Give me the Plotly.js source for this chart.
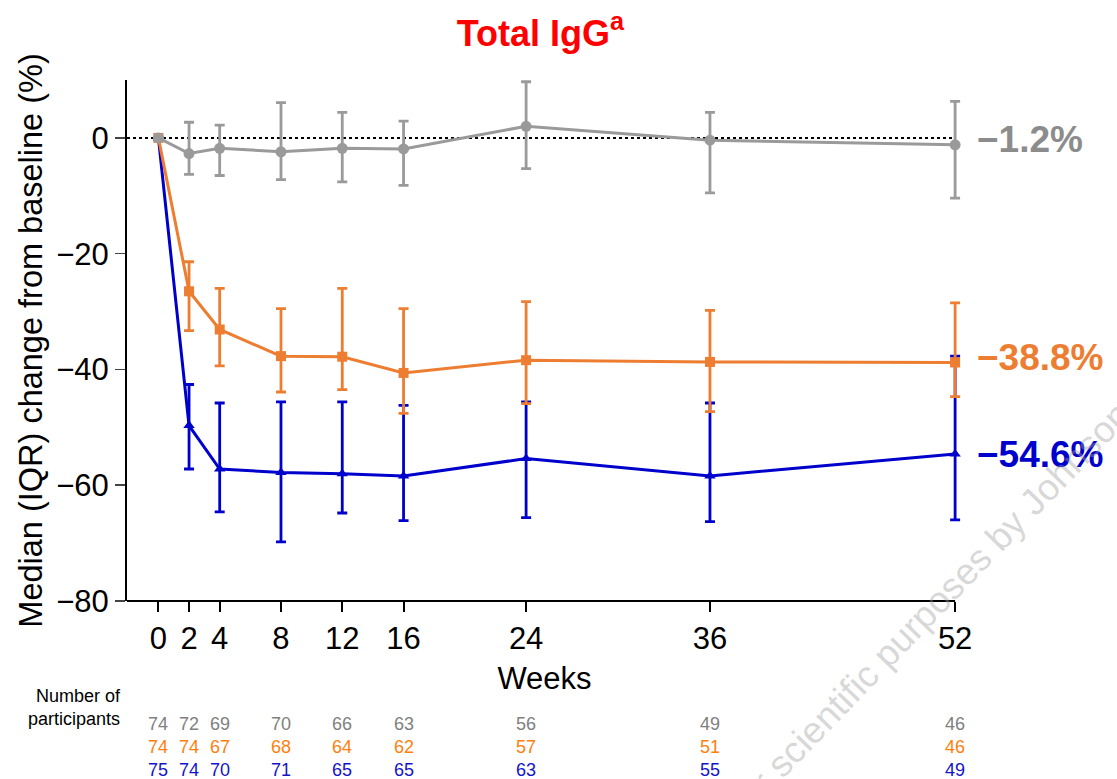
<!DOCTYPE html>
<html>
<head>
<meta charset="utf-8">
<script src="https://cdn.plot.ly/plotly-3.0.1.min.js"></script>
<style>
  html, body { margin: 0; padding: 0; background: #ffffff; }
  #chart { width: 1117px; height: 779px; }
</style>
</head>
<body>
<div id="chart"></div>
<script>
// ---------------- Data ----------------
const weeks = [0, 2, 4, 8, 12, 16, 24, 36, 52];
const weekTickLabels = ['0', '2', '4', '8', '12', '16', '24', '36', '52'];

// Grey group (median, Q1, Q3 of % change from baseline)
const greyMedian = [0, -2.7, -1.8, -2.4, -1.8, -1.9, 2.0, -0.4, -1.2];
const greyQ1     = [0, -6.3, -6.5, -7.2, -7.6, -8.2, -5.3, -9.5, -10.4];
const greyQ3     = [0, 2.7, 2.2, 6.1, 4.4, 2.9, 9.7, 4.4, 6.3];

// Orange group
const orangeMedian = [0, -26.5, -33.1, -37.7, -37.8, -40.6, -38.4, -38.7, -38.8];
const orangeQ1     = [0, -33.3, -39.4, -43.9, -43.5, -47.6, -45.9, -47.3, -44.7];
const orangeQ3     = [0, -21.4, -26.0, -29.5, -26.0, -29.5, -28.3, -29.8, -28.5];

// Blue group
const blueMedian = [0, -49.7, -57.2, -57.8, -58.0, -58.4, -55.4, -58.4, -54.6];
const blueQ1     = [0, -57.2, -64.6, -69.8, -64.8, -66.1, -65.6, -66.3, -66.0];
const blueQ3     = [0, -42.6, -45.8, -45.6, -45.6, -46.2, -45.6, -45.8, -37.7];

// Number of participants
const greyN   = [74, 72, 69, 70, 66, 63, 56, 49, 46];
const orangeN = [74, 74, 67, 68, 64, 62, 57, 51, 46];
const blueN   = [75, 74, 70, 71, 65, 65, 63, 55, 49];

// End labels
const endLabels = ['−1.2%', '−38.8%', '−54.6%'];

// ---------------- Styling ----------------
const FONT = 'Arial, "Liberation Sans", Helvetica, sans-serif';
const GREY = '#9a9a9a';
const ORANGE = '#ED7D31';
const BLUE = '#0000CC';
const XMIN = -2.05, XMAX = 52.45, XLAST = weeks[weeks.length - 1];

function series(median, q1, q3, color, symbol, size) {
  return {
    x: weeks,
    y: median,
    type: 'scatter',
    mode: 'lines+markers',
    line: { color: color, width: 3 },
    marker: { color: color, symbol: symbol, size: size },
    error_y: {
      type: 'data',
      symmetric: false,
      array: q3.map((v, i) => v - median[i]),
      arrayminus: median.map((v, i) => v - q1[i]),
      color: color,
      thickness: 2.8,
      width: 5,
      visible: true
    },
    cliponaxis: false,
    hoverinfo: 'skip',
    showlegend: false
  };
}

const traces = [
  series(blueMedian, blueQ1, blueQ3, BLUE, 'triangle-up', 10),
  series(orangeMedian, orangeQ1, orangeQ3, ORANGE, 'square', 10),
  series(greyMedian, greyQ1, greyQ3, GREY, 'circle', 11)
];

const annotations = [];

// End-of-line labels
const endColors = ['#8c8c8c', ORANGE, BLUE];
const endValues = [greyMedian[8], orangeMedian[8], blueMedian[8]];
const endNudge = [1.0, 0.8, -0.1];
endLabels.forEach((t, i) => {
  annotations.push({
    text: '<b>' + t + '</b>',
    xref: 'x', yref: 'y',
    x: XLAST, y: endValues[i] + endNudge[i],
    xshift: 20,
    xanchor: 'left', yanchor: 'middle',
    showarrow: false,
    font: { family: FONT, size: 37, color: endColors[i] }
  });
});

// Number of participants table
const rowColors = ['#808080', '#FF7F0E', '#1414C8'];
const rowData = [greyN, orangeN, blueN];
const rowY = [-0.236, -0.280, -0.325];
rowData.forEach((row, r) => {
  row.forEach((n, i) => {
    annotations.push({
      text: String(n),
      xref: 'x', yref: 'paper',
      x: weeks[i], y: rowY[r],
      xanchor: 'center', yanchor: 'middle',
      showarrow: false,
      font: { family: FONT, size: 18, color: rowColors[r] }
    });
  });
});
annotations.push({
  text: 'Number of<br>participants',
  xref: 'paper', yref: 'paper',
  x: -0.005, y: -0.204,
  xanchor: 'right', yanchor: 'middle',
  align: 'right',
  showarrow: false,
  font: { family: FONT, size: 18, color: '#000000' }
});

// Watermark
annotations.push({
  text: 'For scientific purposes by Johnson &amp; Johnson',
  xref: 'paper', yref: 'paper',
  x: 1.034, y: 0.104,
  xanchor: 'center', yanchor: 'middle',
  textangle: -46,
  showarrow: false,
  font: { family: FONT, size: 37, color: 'rgba(160,160,160,0.42)' }
});

const layout = {
  width: 1117,
  height: 779,
  margin: { l: 127, r: 155, t: 80, b: 178 },
  paper_bgcolor: '#ffffff',
  plot_bgcolor: '#ffffff',
  font: { family: FONT, color: '#000000' },
  showlegend: false,
  title: {
    text: '<b>Total IgG<sup>a</sup></b>',
    font: { family: FONT, size: 36, color: '#FF0000' },
    x: 0.495, xref: 'paper', xanchor: 'center',
    y: 1 - 33 / 779, yref: 'container', yanchor: 'middle'
  },
  xaxis: {
    range: [XMIN, XMAX],
    tickmode: 'array',
    tickvals: weeks,
    ticktext: weekTickLabels,
    ticks: 'outside', ticklen: 10, tickwidth: 2, tickcolor: '#000000',
    showline: false,
    showgrid: false, zeroline: false,
    tickfont: { family: FONT, size: 31, color: '#000000' },
    title: { text: 'Weeks', font: { family: FONT, size: 31, color: '#000000' }, standoff: 12 },
    fixedrange: true
  },
  yaxis: {
    range: [-80, 10],
    tickmode: 'array',
    tickvals: [-80, -60, -40, -20, 0],
    ticks: 'outside', ticklen: 10, tickwidth: 1.5, tickcolor: '#444444',
    showline: true, linecolor: '#000000', linewidth: 2,
    showgrid: false, zeroline: false,
    tickfont: { family: FONT, size: 31, color: '#000000' },
    title: { text: 'Median (IQR) change from baseline (%)', font: { family: FONT, size: 32.5, color: '#000000' }, standoff: 4 },
    fixedrange: true
  },
  shapes: [
    {
      type: 'line', xref: 'x', yref: 'y',
      x0: XMIN, x1: XLAST, y0: 0, y1: 0,
      line: { color: '#000000', width: 2, dash: 'dot' },
      layer: 'below'
    },
    {
      type: 'line', xref: 'x', yref: 'paper',
      x0: XMIN, x1: XLAST, y0: 0, y1: 0,
      line: { color: '#000000', width: 2 },
      layer: 'above'
    }
  ],
  annotations: annotations
};

Plotly.newPlot('chart', traces, layout, { staticPlot: true, displayModeBar: false });
</script>
</body>
</html>
